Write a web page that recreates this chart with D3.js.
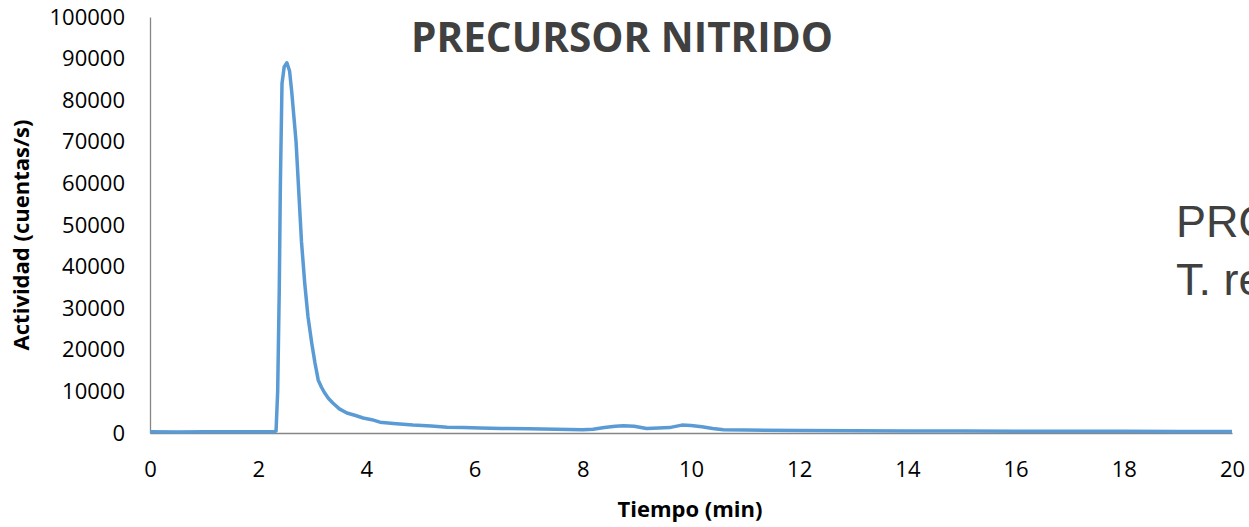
<!DOCTYPE html>
<html>
<head>
<meta charset="utf-8">
<script src="https://cdn.jsdelivr.net/npm/d3@7"></script>
<style>
  body { margin: 0; background: #fff; overflow: hidden; }
  text { font-family: "Open Sans", sans-serif; }
</style>
</head>
<body>
<script>
// tiempo (min) y actividad (cuentas/s)
const tiempo = [0, 0.5, 1, 1.5, 2, 2.3, 2.33, 2.36, 2.39, 2.41, 2.44, 2.48, 2.53, 2.58, 2.62, 2.66, 2.70, 2.75, 2.80, 2.86, 2.92, 2.99, 3.05, 3.11, 3.17, 3.23, 3.30, 3.38, 3.50, 3.64, 3.80, 3.94, 4.10, 4.25, 4.5, 4.86, 5.2, 5.49, 5.8, 6.1, 6.5, 7, 7.5, 8, 8.19, 8.4, 8.6, 8.75, 8.95, 9.18, 9.4, 9.6, 9.83, 10, 10.2, 10.4, 10.6, 11, 12, 13, 14, 15, 16, 17, 18, 19, 20];
const actividad = [300, 250, 320, 280, 300, 320, 500, 10000, 35000, 60000, 84000, 88000, 89000, 87000, 82000, 76000, 70000, 58000, 46000, 36000, 28000, 21600, 16800, 12700, 11000, 9600, 8300, 7200, 5800, 4800, 4200, 3600, 3200, 2600, 2300, 1900, 1700, 1400, 1300, 1200, 1100, 1000, 900, 800, 900, 1300, 1600, 1750, 1600, 1100, 1200, 1300, 1900, 1800, 1500, 1100, 800, 700, 600, 550, 500, 480, 450, 420, 400, 380, 350];
const xTicks = [0, 2, 4, 6, 8, 10, 12, 14, 16, 18, 20];
const yTicks = [0, 10000, 20000, 30000, 40000, 50000, 60000, 70000, 80000, 90000, 100000];

const titulo = "PRECURSOR NITRIDO";
const xLabel = "Tiempo (min)";
const yLabel = "Actividad (cuentas/s)";
const notaLineas = ["PRO", "T. re"];

const svg = d3.select("body").append("svg")
  .attr("width", 1249)
  .attr("height", 527);

const x = d3.scaleLinear().domain([0, 20]).range([150, 1232]);
const y = d3.scaleLinear().domain([0, 100000]).range([433, 17]);

// ejes
const gx = svg.append("g")
  .attr("transform", "translate(0,433)")
  .call(d3.axisBottom(x).tickValues(xTicks).tickSize(0).tickPadding(28).tickFormat(d3.format("d")));
const gy = svg.append("g")
  .attr("transform", "translate(150,0)")
  .call(d3.axisLeft(y).tickValues(yTicks).tickSize(0).tickPadding(25).tickFormat(d3.format("d")));

[gx, gy].forEach(g => {
  g.select(".domain").attr("stroke", "#868686").attr("stroke-width", 1.3);
  g.selectAll("text")
    .attr("fill", "#000")
    .style("font-size", "22px")
    .style("font-family", "'Open Sans', sans-serif");
});

// curva
const line = d3.line()
  .x((d, i) => x(tiempo[i]))
  .y(d => y(d));

svg.append("path")
  .datum(actividad)
  .attr("fill", "none")
  .attr("stroke", "#5B9BD5")
  .attr("stroke-width", 3.5)
  .attr("stroke-linejoin", "round")
  .attr("d", line);

// textos
svg.append("text")
  .attr("x", 622)
  .attr("y", 52)
  .attr("text-anchor", "middle")
  .attr("fill", "#404040")
  .style("font-size", "40.5px")
  .style("font-weight", "bold")
  .text(titulo);

svg.append("text")
  .attr("x", 690)
  .attr("y", 517)
  .attr("text-anchor", "middle")
  .attr("fill", "#000")
  .style("font-size", "22px")
  .style("font-weight", "bold")
  .text(xLabel);

svg.append("text")
  .attr("transform", "translate(29,235) rotate(-90)")
  .attr("text-anchor", "middle")
  .attr("fill", "#000")
  .style("font-size", "22px")
  .style("font-weight", "bold")
  .text(yLabel);

svg.selectAll(".nota")
  .data(notaLineas)
  .enter()
  .append("text")
  .attr("class", "nota")
  .attr("x", 1176)
  .attr("y", (d, i) => 237 + i * 58)
  .attr("fill", "#404040")
  .style("font-family", "'Liberation Sans', Arial, sans-serif")
  .style("font-size", "45px")
  .text(d => d);
</script>
</body>
</html>
